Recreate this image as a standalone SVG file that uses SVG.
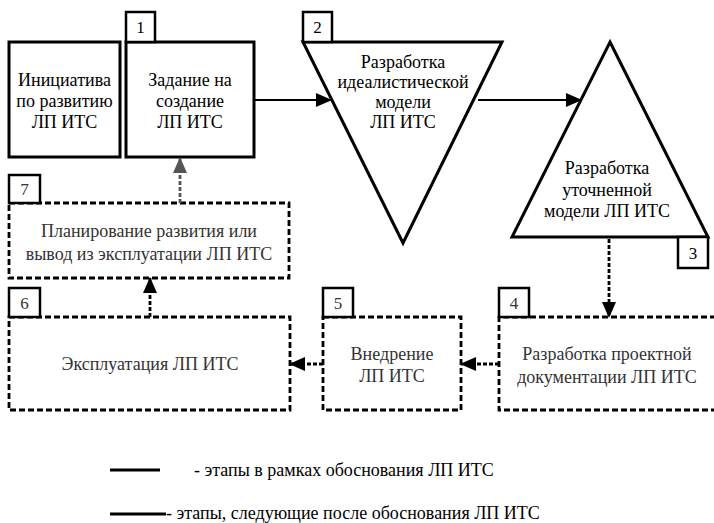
<svg xmlns="http://www.w3.org/2000/svg" width="714" height="523" viewBox="0 0 714 523" font-family="'Liberation Serif', 'DejaVu Serif', 'Times New Roman', serif">
<style>
text{font-family:"Liberation Serif","DejaVu Serif","Times New Roman",serif;font-size:18px;fill:#000;text-anchor:middle}
.num{font-size:17px}
.solid{fill:#fff;stroke:#000;stroke-width:3}
.dash{fill:none;stroke:#000;stroke-width:2.8;stroke-dasharray:6 3}
.tab{fill:#fff;stroke:#000;stroke-width:2.5}
.dt{fill:#333}
.conn{stroke:#000;stroke-width:2;fill:none}
.dconn{stroke:#000;stroke-width:2.8;fill:none;stroke-dasharray:4 2}
.gconn{stroke:#555;stroke-width:2.8;fill:none;stroke-dasharray:4 2}
.leg{text-anchor:start}
</style>
<defs>
<marker id="ahd" markerWidth="16" markerHeight="16" refX="15" refY="8" orient="auto" markerUnits="userSpaceOnUse" viewBox="0 0 16 16">
<path d="M0,1 L16,8 L0,15 Z" fill="#000"/>
</marker>
<marker id="ahg" markerWidth="16" markerHeight="16" refX="15" refY="8" orient="auto" markerUnits="userSpaceOnUse" viewBox="0 0 16 16">
<path d="M0,1 L16,8 L0,15 Z" fill="#555"/>
</marker>
</defs>

<g id="node0">
<rect class="solid" x="9" y="42" width="111" height="115"/>
<text x="64.5" y="86">Инициатива</text>
<text x="64.5" y="107">по развитию</text>
<text x="64.5" y="128">ЛП ИТС</text>
</g>

<g id="node1">
<rect class="solid" x="126" y="42" width="128" height="115"/>
<rect class="tab" x="126" y="12" width="29" height="30"/>
<text class="num" x="140.5" y="33">1</text>
<text x="190" y="86">Задание на</text>
<text x="190" y="107">создание</text>
<text x="190" y="128">ЛП ИТС</text>
</g>

<g id="node2">
<polygon class="solid" points="303,42 502,42 403,243"/>
<rect class="tab" x="303" y="12" width="29" height="30"/>
<text class="num" x="317.5" y="33">2</text>
<text x="403" y="68">Разработка</text>
<text x="403" y="88">идеалистической</text>
<text x="403" y="108">модели</text>
<text x="403" y="128">ЛП ИТС</text>
</g>

<g id="node3">
<polygon class="solid" points="610,42 708,237 512,237"/>
<rect class="tab" x="678" y="237" width="30" height="31"/>
<text class="num" x="693" y="259">3</text>
<text x="607" y="174">Разработка</text>
<text x="607" y="196">уточненной</text>
<text x="607" y="217">модели ЛП ИТС</text>
</g>

<g id="node4">
<polyline class="dash" points="716,317 499,317 499,410 716,410"/>
<rect class="tab" x="499" y="288" width="30" height="29"/>
<text class="num dt" x="514" y="309">4</text>
<text class="dt" x="607" y="360">Разработка проектной</text>
<text class="dt" x="607" y="383">документации ЛП ИТС</text>
</g>

<g id="node5">
<rect class="dash" x="323" y="317" width="138" height="93"/>
<rect class="tab" x="323" y="288" width="30" height="29"/>
<text class="num dt" x="338" y="309">5</text>
<text class="dt" x="392" y="360">Внедрение</text>
<text class="dt" x="392" y="382">ЛП ИТС</text>
</g>

<g id="node6">
<rect class="dash" x="9" y="317" width="281" height="93"/>
<rect class="tab" x="9" y="288" width="31" height="29"/>
<text class="num dt" x="24.5" y="309">6</text>
<text class="dt" x="150" y="370">Эксплуатация ЛП ИТС</text>
</g>

<g id="node7">
<rect class="dash" x="9" y="203" width="280" height="75"/>
<rect class="tab" x="9" y="175" width="31" height="28"/>
<text class="num dt" x="24.5" y="195">7</text>
<text class="dt" x="149" y="237">Планирование развития или</text>
<text class="dt" x="149" y="260">вывод из эксплуатации ЛП ИТС</text>
</g>

<g id="connectors">
<line class="conn" x1="254" y1="100" x2="331" y2="100" marker-end="url(#ahd)"/>
<line class="conn" x1="478" y1="100" x2="581" y2="100" marker-end="url(#ahd)"/>
<line class="dconn" x1="609" y1="239" x2="609" y2="317" marker-end="url(#ahd)"/>
<line class="dconn" x1="499" y1="364" x2="461" y2="364" marker-end="url(#ahd)"/>
<line class="dconn" x1="323" y1="364" x2="290" y2="364" marker-end="url(#ahd)"/>
<line class="dconn" x1="150" y1="317" x2="150" y2="278" marker-end="url(#ahd)"/>
<line class="gconn" x1="180" y1="203" x2="180" y2="158" marker-end="url(#ahg)"/>
</g>

<g id="legend">
<line x1="110" y1="470" x2="160" y2="470" stroke="#000" stroke-width="3"/>
<text class="leg" x="194" y="476">- этапы в рамках обоснования ЛП ИТС</text>
<line x1="110" y1="514" x2="166" y2="514" stroke="#000" stroke-width="3"/>
<text class="leg" x="166" y="519">- этапы, следующие после обоснования ЛП ИТС</text>
</g>
</svg>
